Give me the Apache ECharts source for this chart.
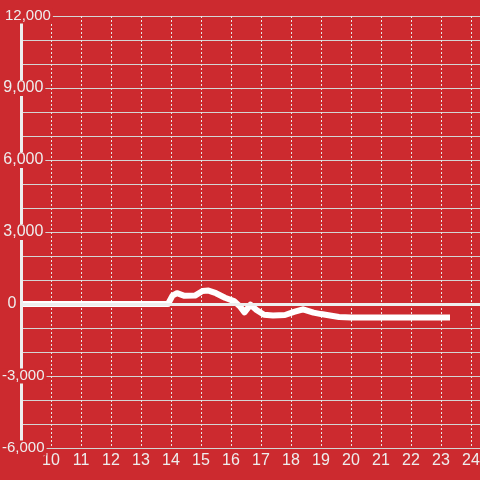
<!DOCTYPE html>
<html>
<head>
<meta charset="utf-8">
<script src="https://cdn.jsdelivr.net/npm/echarts@6/dist/echarts.min.js"></script>
<style>html,body{margin:0;padding:0;background:#cc2a2f;}#c{width:480px;height:480px;}</style>
</head>
<body>
<div id="c"></div>
<script>
var hours = [9, 13.9, 14.05, 14.2, 14.45, 14.8, 15.05, 15.25, 15.5, 15.8, 16.1, 16.3, 16.45, 16.65, 16.85, 17.1, 17.4, 17.8, 18.1, 18.4, 18.75, 19.0, 19.3, 19.6, 20.0, 23.3];
var values = [0, 0, 350, 450, 340, 350, 540, 560, 450, 260, 120, -100, -350, -30, -250, -450, -480, -460, -330, -220, -360, -420, -480, -540, -560, -560];
var xTickStep = 1;
var yTickStep = 1000;
var yLabelStep = 3000;
var xMin = 9;

var BG = '#cc2a2f';
var LABEL = '#eeeeee';
var FONT = 'Liberation Sans';
var pts = hours.map(function (h, i) { return [h, values[i]]; });
var fmt = function (v) { return v.toLocaleString('en-US'); };
function tok(p, fs) { return { color: LABEL, fontSize: fs, fontFamily: FONT, padding: [0, 0, 0, p] }; }

var chart = echarts.init(document.getElementById('c'));
chart.setOption({
  animation: false,
  backgroundColor: BG,
  grid: { left: 21, right: 0, top: 16, bottom: 32, containLabel: false, outerBoundsMode: 'none' },
  xAxis: {
    type: 'value', min: xMin, max: 24.3, interval: xTickStep,
    axisLine: { show: false }, axisTick: { show: false },
    axisLabel: { color: LABEL, fontSize: 16, fontFamily: FONT, margin: 5, showMinLabel: false, showMaxLabel: false },
    splitLine: { show: true, lineStyle: { color: '#e6e6e6', width: 1, type: [2, 2] } }
  },
  yAxis: [
    {
      type: 'value', min: -6000, max: 12000, interval: yTickStep, z: 0,
      axisLine: { show: false }, axisTick: { show: false }, axisLabel: { show: false },
      splitLine: { show: true, lineStyle: { color: '#d4d4d4', width: 1 } }
    },
    {
      type: 'value', min: -6000, max: 12000, interval: yLabelStep, position: 'left', z: 10,
      axisLine: { show: false }, axisTick: { show: false }, splitLine: { show: false },
      axisLabel: {
        color: LABEL, fontSize: 16, fontFamily: FONT, align: 'left', margin: 21,
        backgroundColor: BG, padding: [0, 2],
        formatter: function (v) {
          if (v < 0) return '{n|' + fmt(v) + '}';
          if (v === 0) return '{z|0}';
          if (v >= 10000) return '{w|' + fmt(v) + '}';
          return '{p|' + fmt(v) + '}';
        },
        rich: { n: tok(0, 15), z: tok(5.6, 16), w: tok(3, 15), p: tok(1.3, 16) }
      }
    }
  ],
  series: [{
    type: 'line', data: pts, yAxisIndex: 0, symbol: 'none', z: 2,
    lineStyle: { color: '#ffffff', width: 6, join: 'round' },
    markLine: {
      silent: true, symbol: 'none', label: { show: false },
      lineStyle: { color: '#eeeeee', width: 3, type: 'solid' },
      data: [{ yAxis: 0 }, { xAxis: xMin }]
    }
  }]
});
</script>
</body>
</html>
